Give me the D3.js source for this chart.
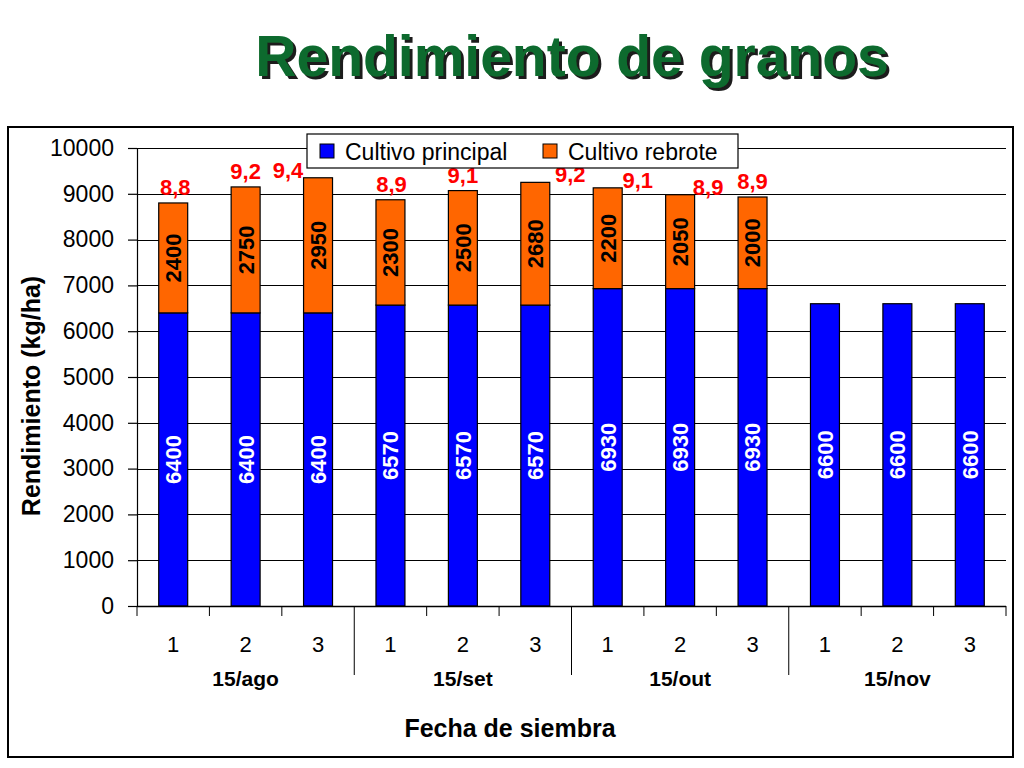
<!DOCTYPE html>
<html>
<head>
<meta charset="utf-8">
<script src="https://cdn.jsdelivr.net/npm/d3@7"></script>
<style>
	body { margin: 0; background: #fff; }
	svg { display: block; font-family: 'Liberation Sans', Arial, sans-serif; }
</style>
</head>
<body>
<svg id="chart" width="1024" height="768"></svg>
<script>
const groups = ['15/ago', '15/set', '15/out', '15/nov']
const subs = ['1', '2', '3']
const principal = [6400, 6400, 6400, 6570, 6570, 6570, 6930, 6930, 6930, 6600, 6600, 6600]
const rebrote = [2400, 2750, 2950, 2300, 2500, 2680, 2200, 2050, 2000, 0, 0, 0]
const totalLabels = ['8,8', '9,2', '9,4', '8,9', '9,1', '9,2', '9,1', '8,9', '8,9']
const yTicks = d3.range(0, 10001, 1000)

const series = [
	{ name: 'Cultivo principal', color: '#0000ff', values: principal },
	{ name: 'Cultivo rebrote', color: '#ff6600', values: rebrote },
]

// the red totals were dragged around by hand in the original, nudge them the same way
const labelShift = [2, 0, -30, 1, 0, 35, 30, 28, 0]

const svg = d3.select('#chart')

const margin = { left: 137, right: 1006, top: 148, bottom: 606 }

const cats = d3.range(principal.length)
const x = d3.scaleBand()
	.domain(cats)
	.range([margin.left, margin.right])
	.paddingInner(0)
	.paddingOuter(0)

const y = d3.scaleLinear()
	.domain([0, 10000])
	.range([margin.bottom, margin.top])

const barW = x.bandwidth() * 0.4

// shadow for the title
svg.append('defs')
	.append('filter')
		.attr('id', 'shadow')
		.attr('x', '-5%').attr('y', '-20%')
		.attr('width', '110%').attr('height', '140%')
	.append('feDropShadow')
		.attr('dx', 3)
		.attr('dy', 3)
		.attr('stdDeviation', 0.4)
		.attr('flood-color', '#1a1a1a')
		.attr('flood-opacity', 1)

// outer frame
svg.append('rect')
	.attr('x', 8)
	.attr('y', 127)
	.attr('width', 1005)
	.attr('height', 630)
	.attr('fill', 'none')
	.attr('stroke', '#000')
	.attr('stroke-width', 2)

svg.append('text')
	.attr('x', 572)
	.attr('y', 76)
	.attr('text-anchor', 'middle')
	.style('font-size', '57px')
	.style('font-weight', 'bold')
	.attr('fill', '#0a6b2e')
	.attr('filter', 'url(#shadow)')
	.text('Rendimiento de granos')

// gridlines
svg.append('g')
	.selectAll('line')
	.data(yTicks.slice(1))
	.join('line')
		.attr('x1', margin.left)
		.attr('x2', margin.right)
		.attr('y1', d => Math.round(y(d)) + 0.5)
		.attr('y2', d => Math.round(y(d)) + 0.5)
		.attr('stroke', '#000')
		.attr('stroke-width', 1.2)

// y axis
const yAxis = svg.append('g')
	.attr('transform', `translate(${margin.left},0)`)
	.call(d3.axisLeft(y).tickValues(yTicks).tickSize(9).tickPadding(14).tickFormat(d3.format('d')))
yAxis.select('.domain').attr('stroke-width', 1.2)
yAxis.selectAll('.tick line').attr('stroke-width', 1.2)
yAxis.selectAll('text')
	.style('font-size', '23px')
	.attr('fill', '#000')

// stacked bars
const stacked = cats.map(i => {
	let base = 0
	return series.map(s => {
		const v = s.values[i]
		const seg = { i, y0: base, y1: base + v, v, color: s.color, white: s === series[0] }
		base += v
		return seg
	})
})

const barG = svg.append('g')
stacked.forEach(segs => {
	segs.filter(s => s.v > 0).forEach(s => {
		barG.append('rect')
			.attr('x', x(s.i) + (x.bandwidth() - barW) / 2)
			.attr('width', barW)
			.attr('y', y(s.y1))
			.attr('height', y(s.y0) - y(s.y1))
			.attr('fill', s.color)
			.attr('stroke', '#000')
			.attr('stroke-width', 1.2)

		const cx = x(s.i) + x.bandwidth() / 2
		const cy = (y(s.y0) + y(s.y1)) / 2
		barG.append('text')
			.attr('transform', `translate(${cx},${cy}) rotate(-90)`)
			.attr('text-anchor', 'middle')
			.attr('dy', '0.36em')
			.style('font-size', '22px')
			.style('font-weight', 'bold')
			.attr('fill', s.white ? '#fff' : '#000')
			.text(s.v)
	})
})

// x axis line
svg.append('line')
	.attr('x1', margin.left)
	.attr('x2', margin.right)
	.attr('y1', margin.bottom + 0.5)
	.attr('y2', margin.bottom + 0.5)
	.attr('stroke', '#000')
	.attr('stroke-width', 1.5)

// ticks between categories, long ones between groups
const bounds = d3.range(cats.length + 1)
svg.append('g')
	.selectAll('line')
	.data(bounds)
	.join('line')
		.attr('x1', d => margin.left + d * x.step())
		.attr('x2', d => margin.left + d * x.step())
		.attr('y1', margin.bottom)
		.attr('y2', d => (d % 3 === 0 && d > 0 && d < cats.length) ? margin.bottom + 69 : margin.bottom + 10)
		.attr('stroke', '#000')
		.attr('stroke-width', 1)

svg.append('g')
	.selectAll('text')
	.data(cats)
	.join('text')
		.attr('x', d => x(d) + x.bandwidth() / 2)
		.attr('y', margin.bottom + 46)
		.attr('text-anchor', 'middle')
		.style('font-size', '22px')
		.text(d => subs[d % 3])

svg.append('g')
	.selectAll('text')
	.data(groups)
	.join('text')
		.attr('x', (d, i) => x(i * 3 + 1) + x.bandwidth() / 2)
		.attr('y', margin.bottom + 80)
		.attr('text-anchor', 'middle')
		.style('font-size', '21px')
		.style('font-weight', 'bold')
		.text(d => d)

// axis titles
svg.append('text')
	.attr('x', 510)
	.attr('y', 737)
	.attr('text-anchor', 'middle')
	.style('font-size', '25px')
	.style('font-weight', 'bold')
	.text('Fecha de siembra')

svg.append('text')
	.attr('transform', `translate(40,396) rotate(-90)`)
	.attr('text-anchor', 'middle')
	.style('font-size', '25px')
	.style('font-weight', 'bold')
	.text('Rendimiento (kg/ha)')

// red totals
svg.append('g')
	.selectAll('text')
	.data(totalLabels)
	.join('text')
		.attr('x', (d, i) => x(i) + x.bandwidth() / 2 + labelShift[i])
		.attr('y', (d, i) => y(principal[i] + rebrote[i]) - (labelShift[i] > 10 || labelShift[i] < -10 ? 0 : 8))
		.attr('text-anchor', 'middle')
		.style('font-size', '22px')
		.style('font-weight', 'bold')
		.attr('fill', '#ff0000')
		.text(d => d)

// legend
const leg = svg.append('g').attr('transform', 'translate(307,134)')
leg.append('rect')
	.attr('width', 431)
	.attr('height', 34)
	.attr('fill', '#fff')
	.attr('stroke', '#000')
	.attr('stroke-width', 1.2)
const legX = [13, 236]
series.forEach((s, i) => {
	leg.append('rect')
		.attr('x', legX[i])
		.attr('y', 10)
		.attr('width', 14)
		.attr('height', 14)
		.attr('fill', s.color)
		.attr('stroke', '#000')
	leg.append('text')
		.attr('x', legX[i] + 25)
		.attr('y', 26)
		.style('font-size', '23px')
		.text(s.name)
})
</script>
</body>
</html>
